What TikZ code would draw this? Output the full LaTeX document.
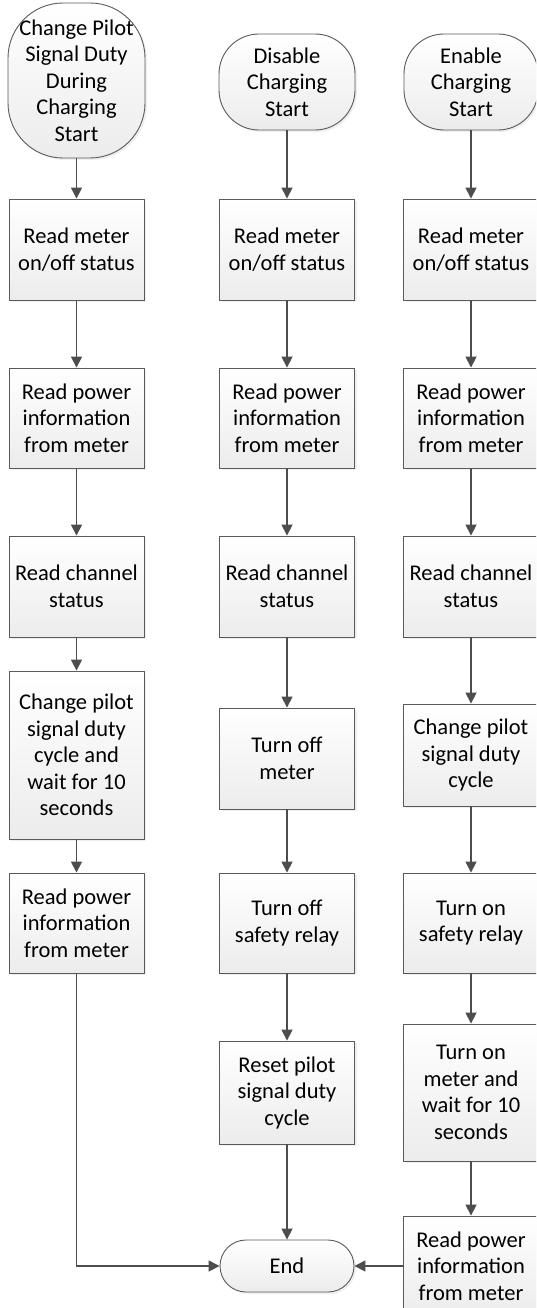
\documentclass[tikz,border=0pt]{standalone}
\usepackage{fontspec}
\setmainfont{Carlito}
\usetikzlibrary{arrows.meta, shadows}

\definecolor{boxline}{HTML}{5A5A5A}
\definecolor{boxfill}{HTML}{ECECEC}
\definecolor{flowline}{HTML}{4D4D4D}

\tikzset{
  procbox/.style={rectangle, draw=boxline, line width=0.9pt, top color=white, bottom color=boxfill,
    align=center, minimum width=135pt, minimum height=101pt, inner sep=0pt,
    drop shadow={shadow xshift=2pt, shadow yshift=-2pt, fill=gray!25},
    font=\fontsize{22.5}{26.5}\selectfont},
  startbox/.style={procbox, rounded corners=40pt},
  flow/.style={draw=flowline, line width=1.6pt, -{Triangle[width=11pt,length=11pt]}},
}

\begin{document}
\begin{tikzpicture}[x=1pt, y=1pt]
  \useasboundingbox (0,0) rectangle (536,-1308);
  \clip (0,0) rectangle (536,-1308);

  % left column
  \node (A0) at (76.5,-80.5) [startbox, rounded corners=55pt, minimum width=137pt, minimum height=155pt]{Change Pilot\\Signal Duty\\During\\Charging\\Start};
  \node (A1) at (76.5,-249.5) [procbox]{Read meter\\on/off status};
  \node (A2) at (76.5,-418) [procbox, minimum height=100pt]{Read power\\information\\from meter};
  \node (A3) at (76.5,-586.5) [procbox]{Read channel\\status};
  \node (A4) at (76.5,-755) [procbox, minimum height=168pt]{Change pilot\\signal duty\\cycle and\\wait for 10\\seconds};
  \node (A5) at (76.5,-923) [procbox, minimum height=100pt]{Read power\\information\\from meter};

  % middle column
  \node (B0) at (287,-82) [startbox, minimum width=136pt, minimum height=96pt]{Disable\\Charging\\Start};
  \node (B1) at (287,-249.5) [procbox]{Read meter\\on/off status};
  \node (B2) at (287,-418) [procbox, minimum height=100pt]{Read power\\information\\from meter};
  \node (B3) at (287,-586.5) [procbox]{Read channel\\status};
  \node (B4) at (287,-758.5) [procbox]{Turn off\\meter};
  \node (B5) at (287,-923) [procbox, minimum height=100pt]{Turn off\\safety relay};
  \node (B6) at (287,-1092.5) [procbox, minimum height=103pt]{Reset pilot\\signal duty\\cycle};

  % right column
  \node (C0) at (471,-82) [startbox, minimum width=134pt, minimum height=96pt]{Enable\\Charging\\Start};
  \node (C1) at (471,-249.5) [procbox]{Read meter\\on/off status};
  \node (C2) at (471,-418) [procbox, minimum height=100pt]{Read power\\information\\from meter};
  \node (C3) at (471,-586.5) [procbox]{Read channel\\status};
  \node (C4) at (471,-755) [procbox, minimum height=102pt]{Change pilot\\signal duty\\cycle};
  \node (C5) at (471,-923) [procbox, minimum height=100pt]{Turn on\\safety relay};
  \node (C6) at (471,-1092.5) [procbox, minimum height=137pt]{Turn on\\meter and\\wait for 10\\seconds};
  \node (C7) at (471,-1266) [procbox, minimum height=100pt]{Read power\\information\\from meter};

  \node (E) at (287,-1266) [startbox, rounded corners=26pt, minimum width=134pt, minimum height=52pt]{End};

  \foreach \a/\b in {A0/A1, A1/A2, A2/A3, A3/A4, A4/A5,
                     B0/B1, B1/B2, B2/B3, B3/B4, B4/B5, B5/B6, B6/E,
                     C0/C1, C1/C2, C2/C3, C3/C4, C4/C5, C5/C6, C6/C7, C7/E}
    \draw[flow] (\a) -- (\b);
  \draw[flow] (A5) |- (E);

\end{tikzpicture}
\end{document}
